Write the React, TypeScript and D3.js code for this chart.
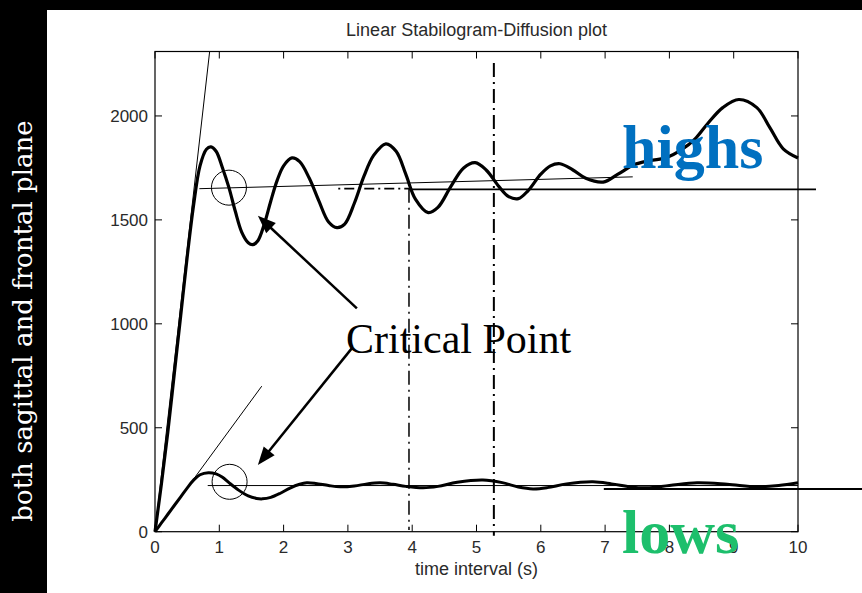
import React from 'react';
import * as d3 from 'd3';

// ---------- data ----------
const xTicks = [0, 1, 2, 3, 4, 5, 6, 7, 8, 9, 10];
const yTicks = [0, 500, 1000, 1500, 2000];

const highCurve: [number, number][] = [
  [0, 0], [0.1, 230], [0.2, 480], [0.3, 760], [0.4, 1040], [0.5, 1320], [0.6, 1570],
  [0.7, 1760], [0.8, 1840], [0.87, 1851], [0.95, 1830], [1.05, 1750], [1.15, 1655],
  [1.25, 1540], [1.35, 1440], [1.45, 1390], [1.52, 1381], [1.6, 1400], [1.7, 1480],
  [1.8, 1590], [1.9, 1690], [2.0, 1760], [2.13, 1798], [2.25, 1780], [2.4, 1700],
  [2.55, 1590], [2.7, 1490], [2.83, 1463], [2.95, 1480], [3.1, 1580], [3.25, 1710],
  [3.4, 1810], [3.59, 1866], [3.75, 1830], [3.9, 1720], [4.05, 1600], [4.25, 1535],
  [4.4, 1560], [4.6, 1660], [4.8, 1750], [4.98, 1775], [5.15, 1740], [5.35, 1660],
  [5.5, 1612], [5.65, 1602], [5.8, 1640], [6.0, 1720], [6.15, 1760], [6.3, 1770],
  [6.5, 1740], [6.7, 1700], [6.97, 1682], [7.2, 1720], [7.45, 1765], [7.7, 1785],
  [7.96, 1800], [8.2, 1840], [8.4, 1890], [8.6, 1965], [8.83, 2040], [9.08, 2079],
  [9.36, 2040], [9.56, 1945], [9.77, 1842], [10, 1798],
];

const lowCurve: [number, number][] = [
  [0, 0], [0.1, 42], [0.2, 84], [0.3, 126], [0.4, 168], [0.5, 210], [0.6, 248],
  [0.7, 274], [0.83, 284], [0.95, 278], [1.05, 262], [1.15, 236], [1.3, 200],
  [1.45, 172], [1.58, 160], [1.67, 158], [1.8, 165], [1.95, 185], [2.1, 210],
  [2.25, 228], [2.36, 235], [2.5, 232], [2.7, 222], [2.88, 216], [3.1, 220],
  [3.3, 230], [3.5, 235], [3.7, 228], [3.9, 218], [4.17, 211], [4.4, 218],
  [4.7, 238], [5.1, 249], [5.4, 236], [5.65, 215], [5.88, 206], [6.1, 212],
  [6.4, 230], [6.81, 240], [7.1, 230], [7.4, 215], [7.65, 211], [8.0, 222],
  [8.43, 235], [8.9, 228], [9.36, 216], [9.7, 222], [10, 235],
];

// tangent (short-term diffusion) lines
const highTangent: [number, number][] = [[0, 0], [0.85, 2310]];
const lowTangent: [number, number][] = [[0, 0], [1.66, 700]];
// long-term fit lines
const highFit: [number, number][] = [[0.69, 1650], [7.43, 1707]];
const lowFit: [number, number][] = [[0.82, 222], [10, 222]];
// plateau levels
const highLevelDash: [number, number][] = [[2.85, 1650], [3.95, 1650]];
const highLevel: [number, number][] = [[3.95, 1647], [10.28, 1647]];
const lowLevel: [number, number][] = [[6.98, 206], [11, 206]];
// vertical dash-dot markers
const vMarkers: { t: number; from: number; to: number }[] = [
  { t: 3.95, from: 1650, to: 8 },
  { t: 5.27, from: 2255, to: -20 },
];
// critical point circles
const circles: [number, number][] = [[1.15, 1655], [1.16, 240]];
// arrows: from -> to
const arrows: { from: [number, number]; to: [number, number] }[] = [
  { from: [3.14, 1074], to: [1.6, 1520] },
  { from: [3.06, 882], to: [1.6, 321] },
];

const W = 862;
const H = 593;

export default function App() {
  const x = d3.scaleLinear().domain([0, 10]).range([155, 798]);
  const y = d3.scaleLinear().domain([0, 2310]).range([531.7, 51.5]);
  const [x0, x1] = x.range();
  const [y0, y1] = y.range();

  const curve = d3
    .line<[number, number]>()
    .x((d) => x(d[0]))
    .y((d) => y(d[1]))
    .curve(d3.curveCatmullRom.alpha(0.5));
  const straight = d3
    .line<[number, number]>()
    .x((d) => x(d[0]))
    .y((d) => y(d[1]));

  const tickFont = { fontFamily: 'Liberation Sans, Arial, sans-serif', fontSize: 17, fill: '#2a2a2a' };
  const tickLen = 7;

  const arrowHead = (a: { from: [number, number]; to: [number, number] }) => {
    const fx = x(a.from[0]), fy = y(a.from[1]);
    const tx = x(a.to[0]), ty = y(a.to[1]);
    const ang = Math.atan2(ty - fy, tx - fx);
    const L = 18, Wd = 7;
    const bx = tx - L * Math.cos(ang), by = ty - L * Math.sin(ang);
    const p1 = [bx + Wd * Math.sin(ang), by - Wd * Math.cos(ang)];
    const p2 = [bx - Wd * Math.sin(ang), by + Wd * Math.cos(ang)];
    return {
      line: { x1: fx, y1: fy, x2: bx + 3 * Math.cos(ang), y2: by + 3 * Math.sin(ang) },
      poly: `${tx},${ty} ${p1[0]},${p1[1]} ${p2[0]},${p2[1]}`,
    };
  };

  return (
    <svg
      width={W}
      height={H}
      style={{ position: 'absolute', left: 0, top: 0, display: 'block' }}
      xmlns="http://www.w3.org/2000/svg"
    >
      <defs>
        <clipPath id="plotClip">
          <rect x={x0} y={y1} width={x1 - x0} height={y0 - y1} />
        </clipPath>
      </defs>
      <rect x={0} y={0} width={W} height={H} fill="#000" />
      <rect x={47} y={10} width={W - 47} height={H - 10} fill="#fff" />

      {/* left label */}
      <text
        transform={`translate(31.5, 321) rotate(-90)`}
        textAnchor="middle"
        fontFamily="DejaVu Serif, serif"
        fontSize={26}
        fill="#fff"
      >
        both sagittal and frontal plane
      </text>

      {/* title */}
      <text x={(x0 + x1) / 2} y={36} textAnchor="middle" {...tickFont} fontSize={18}>
        Linear Stabilogram-Diffusion plot
      </text>

      {/* frame */}
      <rect x={x0} y={y1} width={x1 - x0} height={y0 - y1} fill="none" stroke="#000" strokeWidth={1.2} />

      {/* ticks */}
      {xTicks.map((t) => (
        <g key={'xt' + t}>
          <line x1={x(t)} x2={x(t)} y1={y0} y2={y0 - tickLen} stroke="#000" strokeWidth={1} />
          <line x1={x(t)} x2={x(t)} y1={y1} y2={y1 + tickLen} stroke="#000" strokeWidth={1} />
          <text x={x(t)} y={553} textAnchor="middle" {...tickFont}>
            {t}
          </text>
        </g>
      ))}
      {yTicks.map((v) => (
        <g key={'yt' + v}>
          <line x1={x0} x2={x0 + tickLen} y1={y(v)} y2={y(v)} stroke="#000" strokeWidth={1} />
          <line x1={x1} x2={x1 - tickLen} y1={y(v)} y2={y(v)} stroke="#000" strokeWidth={1} />
          <text x={148} y={y(v) + 6} textAnchor="end" {...tickFont}>
            {v}
          </text>
        </g>
      ))}

      {/* x label */}
      <text x={(x0 + x1) / 2} y={575} textAnchor="middle" {...tickFont} fontSize={18}>
        time interval (s)
      </text>

      {/* tangent lines */}
      <g clipPath="url(#plotClip)">
        <path d={straight(highTangent) || ''} fill="none" stroke="#000" strokeWidth={1} />
        <path d={straight(lowTangent) || ''} fill="none" stroke="#000" strokeWidth={1} />
      </g>

      {/* fit lines */}
      <path d={straight(highFit) || ''} fill="none" stroke="#000" strokeWidth={1} />
      <path d={straight(lowFit) || ''} fill="none" stroke="#000" strokeWidth={1} />

      {/* curves */}
      <path d={curve(highCurve) || ''} fill="none" stroke="#000" strokeWidth={3.2} strokeLinejoin="round" />
      <path d={curve(lowCurve) || ''} fill="none" stroke="#000" strokeWidth={3} strokeLinejoin="round" />

      {/* level lines */}
      <path d={straight(highLevelDash) || ''} fill="none" stroke="#000" strokeWidth={1.8} strokeDasharray="2,4,10,4" />
      <path d={straight(highLevel) || ''} fill="none" stroke="#000" strokeWidth={1.8} />
      <path d={straight(lowLevel) || ''} fill="none" stroke="#000" strokeWidth={2} />

      {/* vertical dash-dot markers */}
      {vMarkers.map((m, i) => (
        <line
          key={'vm' + i}
          x1={x(m.t)}
          x2={x(m.t)}
          y1={y(m.from)}
          y2={y(m.to)}
          stroke="#000"
          strokeWidth={i === 0 ? 1.5 : 2}
          strokeDasharray="14,5,2,5"
        />
      ))}

      {/* circles */}
      {circles.map((c, i) => (
        <circle key={'c' + i} cx={x(c[0])} cy={y(c[1])} r={17.5} fill="none" stroke="#000" strokeWidth={1} />
      ))}

      {/* arrows */}
      {arrows.map((a, i) => {
        const h = arrowHead(a);
        return (
          <g key={'a' + i}>
            <line {...h.line} stroke="#000" strokeWidth={2.5} />
            <polygon points={h.poly} fill="#000" />
          </g>
        );
      })}

      {/* annotations */}
      <text x={346} y={353} fontFamily="Liberation Serif, Times New Roman, serif" fontSize={42} fill="#000">
        Critical Point
      </text>
      <text
        x={622}
        y={168}
        fontFamily="Liberation Serif, Times New Roman, serif"
        fontWeight="bold"
        fontSize={62}
        fill="#0070C0"
      >
        highs
      </text>
      <text
        x={622}
        y={553}
        fontFamily="Liberation Serif, Times New Roman, serif"
        fontWeight="bold"
        fontSize={62}
        fill="#1DBF6C"
      >
        lows
      </text>
    </svg>
  );
}
